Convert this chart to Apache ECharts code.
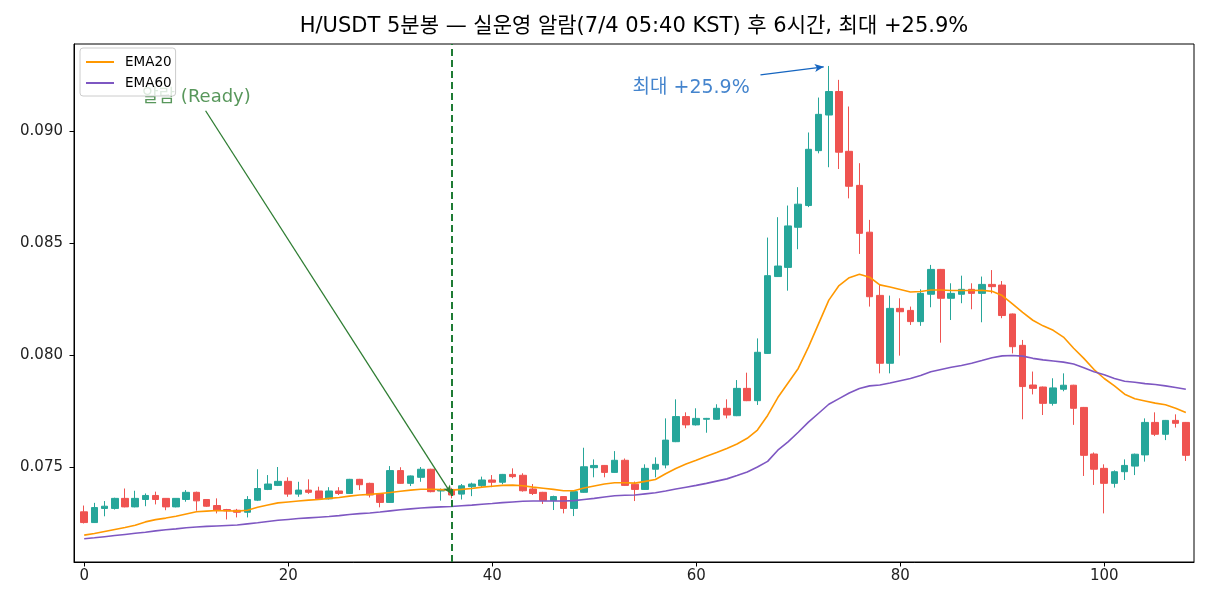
<!DOCTYPE html>
<html><head><meta charset="utf-8">
<script src="https://cdn.jsdelivr.net/npm/echarts@6/dist/echarts.min.js"></script>
<style>html,body{margin:0;padding:0;background:#fff}#c{width:1210px;height:605px}</style>
</head><body><div id="c"></div>
<script>
const candleIndex = Array.from({length: 109}, (_, i) => i);
const opens = [0.07300,0.07252,0.07315,0.07315,0.07360,0.07322,0.07355,0.07373,0.07360,0.07322,
0.07355,0.07387,0.07355,0.07328,0.07310,0.07307,0.07298,0.07352,0.07400,0.07418,
0.07436,0.07379,0.07397,0.07393,0.07358,0.07393,0.07382,0.07445,0.07427,0.07379,
0.07342,0.07484,0.07427,0.07454,0.07490,0.07393,0.07400,0.07379,0.07412,0.07417,
0.07442,0.07432,0.07467,0.07463,0.07402,0.07387,0.07350,0.07368,0.07315,0.07387,
0.07497,0.07507,0.07476,0.07530,0.07423,0.07400,0.07490,0.07509,0.07613,0.07725,
0.07688,0.07713,0.07713,0.07762,0.07729,0.07851,0.07796,0.08007,0.08350,0.08391,
0.08570,0.08667,0.08912,0.09071,0.09176,0.08909,0.08757,0.08548,0.08266,0.07963,
0.08208,0.08199,0.08149,0.08271,0.08382,0.08253,0.08271,0.08293,0.08275,0.08315,
0.08312,0.08183,0.08043,0.07866,0.07857,0.07784,0.07847,0.07865,0.07766,0.07558,
0.07494,0.07427,0.07479,0.07504,0.07554,0.07699,0.07646,0.07708,0.07699];
const closes = [0.07252,0.07319,0.07325,0.07360,0.07322,0.07360,0.07373,0.07355,0.07322,0.07360,
0.07387,0.07349,0.07325,0.07307,0.07304,0.07298,0.07355,0.07404,0.07424,0.07436,
0.07379,0.07397,0.07387,0.07358,0.07393,0.07382,0.07445,0.07421,0.07375,0.07342,
0.07484,0.07427,0.07460,0.07490,0.07390,0.07397,0.07375,0.07416,0.07424,0.07442,
0.07432,0.07467,0.07457,0.07394,0.07382,0.07350,0.07368,0.07315,0.07390,0.07501,
0.07507,0.07476,0.07530,0.07418,0.07400,0.07494,0.07512,0.07620,0.07725,0.07688,
0.07717,0.07717,0.07762,0.07732,0.07851,0.07796,0.08012,0.08354,0.08397,0.08576,
0.08673,0.08918,0.09074,0.09176,0.08905,0.08753,0.08543,0.08260,0.07963,0.08208,
0.08193,0.08149,0.08275,0.08382,0.08253,0.08275,0.08293,0.08275,0.08315,0.08305,
0.08176,0.08037,0.07859,0.07851,0.07784,0.07853,0.07865,0.07762,0.07552,0.07490,
0.07427,0.07479,0.07507,0.07557,0.07699,0.07646,0.07708,0.07695,0.07552];
const lows = [0.07248,0.07250,0.07280,0.07310,0.07320,0.07320,0.07325,0.07333,0.07307,0.07320,
0.07345,0.07305,0.07322,0.07293,0.07266,0.07275,0.07275,0.07348,0.07397,0.07415,
0.07367,0.07367,0.07380,0.07355,0.07355,0.07375,0.07380,0.07397,0.07364,0.07320,
0.07340,0.07425,0.07415,0.07434,0.07387,0.07350,0.07360,0.07355,0.07370,0.07410,
0.07410,0.07423,0.07450,0.07390,0.07375,0.07335,0.07308,0.07293,0.07281,0.07385,
0.07454,0.07454,0.07474,0.07416,0.07348,0.07398,0.07454,0.07494,0.07611,0.07673,
0.07685,0.07653,0.07710,0.07717,0.07727,0.07794,0.07777,0.08005,0.08348,0.08287,
0.08472,0.08660,0.08900,0.08838,0.08830,0.08699,0.08451,0.08216,0.07918,0.07918,
0.07997,0.08134,0.08130,0.08213,0.08055,0.08156,0.08231,0.08204,0.08146,0.08275,
0.08164,0.08007,0.07713,0.07824,0.07732,0.07774,0.07838,0.07688,0.07460,0.07420,
0.07293,0.07408,0.07442,0.07464,0.07524,0.07638,0.07620,0.07676,0.07527];
const highs = [0.07328,0.07340,0.07348,0.07363,0.07404,0.07394,0.07382,0.07390,0.07360,0.07360,
0.07397,0.07390,0.07355,0.07360,0.07313,0.07313,0.07370,0.07490,0.07464,0.07500,
0.07454,0.07434,0.07445,0.07412,0.07410,0.07410,0.07447,0.07447,0.07430,0.07381,
0.07504,0.07499,0.07462,0.07500,0.07492,0.07404,0.07407,0.07424,0.07430,0.07457,
0.07464,0.07469,0.07494,0.07472,0.07424,0.07389,0.07372,0.07370,0.07392,0.07586,
0.07534,0.07509,0.07571,0.07538,0.07435,0.07512,0.07543,0.07717,0.07802,0.07744,
0.07762,0.07719,0.07780,0.07802,0.07888,0.07921,0.08074,0.08524,0.08615,0.08667,
0.08749,0.08993,0.09149,0.09290,0.09228,0.09109,0.08856,0.08603,0.08313,0.08265,
0.08253,0.08216,0.08293,0.08402,0.08384,0.08320,0.08354,0.08320,0.08350,0.08379,
0.08330,0.08185,0.08067,0.07926,0.07859,0.07896,0.07918,0.07867,0.07768,0.07565,
0.07512,0.07485,0.07534,0.07560,0.07717,0.07744,0.07710,0.07735,0.07701];
const ema20 = [0.07196,0.07203,0.07212,0.07221,0.07230,0.07240,0.07255,0.07265,0.07272,0.07280,
0.07290,0.07300,0.07303,0.07306,0.07305,0.07303,0.07307,0.07320,0.07330,0.07340,
0.07344,0.07348,0.07352,0.07355,0.07360,0.07364,0.07370,0.07375,0.07378,0.07382,
0.07386,0.07392,0.07397,0.07401,0.07401,0.07399,0.07397,0.07400,0.07404,0.07410,
0.07414,0.07418,0.07419,0.07416,0.07410,0.07405,0.07400,0.07394,0.07394,0.07406,
0.07415,0.07424,0.07430,0.07430,0.07428,0.07436,0.07444,0.07470,0.07493,0.07513,
0.07530,0.07548,0.07565,0.07583,0.07603,0.07628,0.07665,0.07730,0.07810,0.07875,
0.07940,0.08035,0.08140,0.08245,0.08310,0.08345,0.08360,0.08347,0.08313,0.08303,
0.08292,0.08281,0.08283,0.08290,0.08290,0.08288,0.08288,0.08288,0.08289,0.08284,
0.08265,0.08228,0.08190,0.08155,0.08130,0.08110,0.08080,0.08030,0.07985,0.07935,
0.07895,0.07862,0.07825,0.07805,0.07795,0.07785,0.07778,0.07762,0.07743];
const ema60 = [0.07180,0.07184,0.07189,0.07194,0.07199,0.07204,0.07209,0.07215,0.07220,0.07224,
0.07229,0.07232,0.07235,0.07237,0.07239,0.07241,0.07246,0.07251,0.07257,0.07262,
0.07266,0.07270,0.07273,0.07276,0.07279,0.07283,0.07288,0.07292,0.07295,0.07299,
0.07304,0.07309,0.07313,0.07317,0.07320,0.07322,0.07324,0.07327,0.07330,0.07334,
0.07337,0.07341,0.07344,0.07347,0.07348,0.07348,0.07348,0.07348,0.07350,0.07355,
0.07360,0.07366,0.07372,0.07374,0.07375,0.07380,0.07385,0.07393,0.07402,0.07410,
0.07418,0.07427,0.07437,0.07447,0.07462,0.07478,0.07500,0.07525,0.07575,0.07612,
0.07655,0.07700,0.07740,0.07780,0.07805,0.07830,0.07850,0.07862,0.07866,0.07875,
0.07885,0.07895,0.07908,0.07925,0.07935,0.07945,0.07953,0.07963,0.07975,0.07988,
0.07996,0.07998,0.07995,0.07985,0.07978,0.07973,0.07968,0.07960,0.07943,0.07925,
0.07912,0.07895,0.07883,0.07878,0.07872,0.07868,0.07862,0.07855,0.07847];
const xTickValues = [0, 20, 40, 60, 80, 100];
const yTickValues = [0.075, 0.080, 0.085, 0.090];
const alertIndex = 36;
const alertPrice = 0.07379;
const peakIndex = 73;
const peakHigh = 0.09290;
const titleText = 'H/USDT 5분봉 — 실운영 알람(7/4 05:40 KST) 후 6시간, 최대 +25.9%';
const readyLabel = '알람 (Ready)';
const peakLabel = '최대 +25.9%';

const FONT = '"DejaVu Sans", "Noto Sans CJK KR", sans-serif';
const chart = echarts.init(document.getElementById('c'), null, {renderer: 'canvas'});
const candleData = candleIndex.map(i => [i, opens[i], closes[i], lows[i], highs[i]]);

chart.setOption({
  animation: false,
  backgroundColor: '#fff',
  textStyle: {fontFamily: FONT},
  title: {
    text: titleText, left: 634, top: 16, textAlign: 'center', padding: 0,
    textStyle: {fontSize: 21, fontWeight: 'normal', color: '#000', fontFamily: FONT}
  },
  legend: {
    orient: 'vertical', left: 80, top: 48, padding: [6, 4, 5, 6], itemGap: 5,
    itemWidth: 28, itemHeight: 2, icon: 'rect',
    backgroundColor: 'rgba(255,255,255,0.8)', borderColor: '#cccccc', borderWidth: 1, borderRadius: 3,
    textStyle: {fontSize: 13.5, color: '#000', lineHeight: 16, padding: [0, 0, 0, 6], fontFamily: FONT},
    data: ['EMA20', 'EMA60'], z: 10
  },
  grid: {left: 74, right: 16, top: 44, bottom: 43, show: true, borderColor: '#000', borderWidth: 1, containLabel: false, outerBoundsMode: 'none'},
  xAxis: {
    type: 'value', min: -1, max: 108.8,
    axisLine: {show: true, onZero: false, lineStyle: {color: '#000', width: 1}},
    axisTick: {show: true, inside: false, length: 4.5, customValues: xTickValues, lineStyle: {color: '#000'}},
    axisLabel: {customValues: xTickValues, fontSize: 15, color: '#222', margin: 7, fontFamily: FONT},
    splitLine: {show: false}
  },
  yAxis: {
    type: 'value', min: 0.07076, max: 0.09388, scale: true,
    axisLine: {show: true, onZero: false, lineStyle: {color: '#000', width: 1}},
    axisTick: {show: true, inside: false, length: 4.5, customValues: yTickValues, lineStyle: {color: '#000'}},
    axisLabel: {customValues: yTickValues, fontSize: 15, color: '#222', margin: 11, fontFamily: FONT,
      formatter: v => v.toFixed(3)},
    splitLine: {show: false}
  },
  series: [
    {
      type: 'candlestick', name: 'H/USDT', data: candleData, barWidth: 7,
      itemStyle: {color: '#26a69a', color0: '#ef5350', borderColor: '#26a69a', borderColor0: '#ef5350', borderWidth: 1}
    },
    {
      type: 'line', name: 'EMA20', data: candleIndex.map(i => [i, ema20[i]]), showSymbol: false, symbol: 'none',
      lineStyle: {color: '#ff9800', width: 1.6}, itemStyle: {color: '#ff9800'}
    },
    {
      type: 'line', name: 'EMA60', data: candleIndex.map(i => [i, ema60[i]]), showSymbol: false, symbol: 'none',
      lineStyle: {color: '#7e57c2', width: 1.6}, itemStyle: {color: '#7e57c2'}
    },
    {
      type: 'scatter', name: 'annotations', silent: true, symbolSize: 1,
      itemStyle: {color: 'rgba(0,0,0,0)'},
      label: {show: true, position: 'inside', fontSize: 18, fontFamily: FONT, align: 'center', verticalAlign: 'middle'},
      data: [
        {value: [11, 0.09152], label: {formatter: readyLabel, color: '#2e7d32'}},
        {value: [59.5, 0.09192], label: {formatter: peakLabel, color: '#1565c0', fontSize: 19}}
      ],
      markLine: {
        silent: true, animation: false, symbol: ['none', 'none'], label: {show: false},
        emphasis: {disabled: true},
        data: [
          {xAxis: alertIndex, lineStyle: {color: '#1e7b34', width: 2, type: [7, 4]}},
          [{coord: [11.9, 0.0909], symbol: 'none', lineStyle: {color: '#2e7d32', width: 1.3, type: 'solid'}},
           {coord: [alertIndex, alertPrice], symbol: 'arrow', symbolSize: [6, 9]}],
          [{coord: [66.3, 0.0925], symbol: 'none', lineStyle: {color: '#1565c0', width: 1.3, type: 'solid'}},
           {coord: [peakIndex - 0.5, peakHigh - 0.00004], symbol: 'arrow', symbolSize: [6, 9]}]
        ]
      }
    }
  ]
});
</script></body></html>
